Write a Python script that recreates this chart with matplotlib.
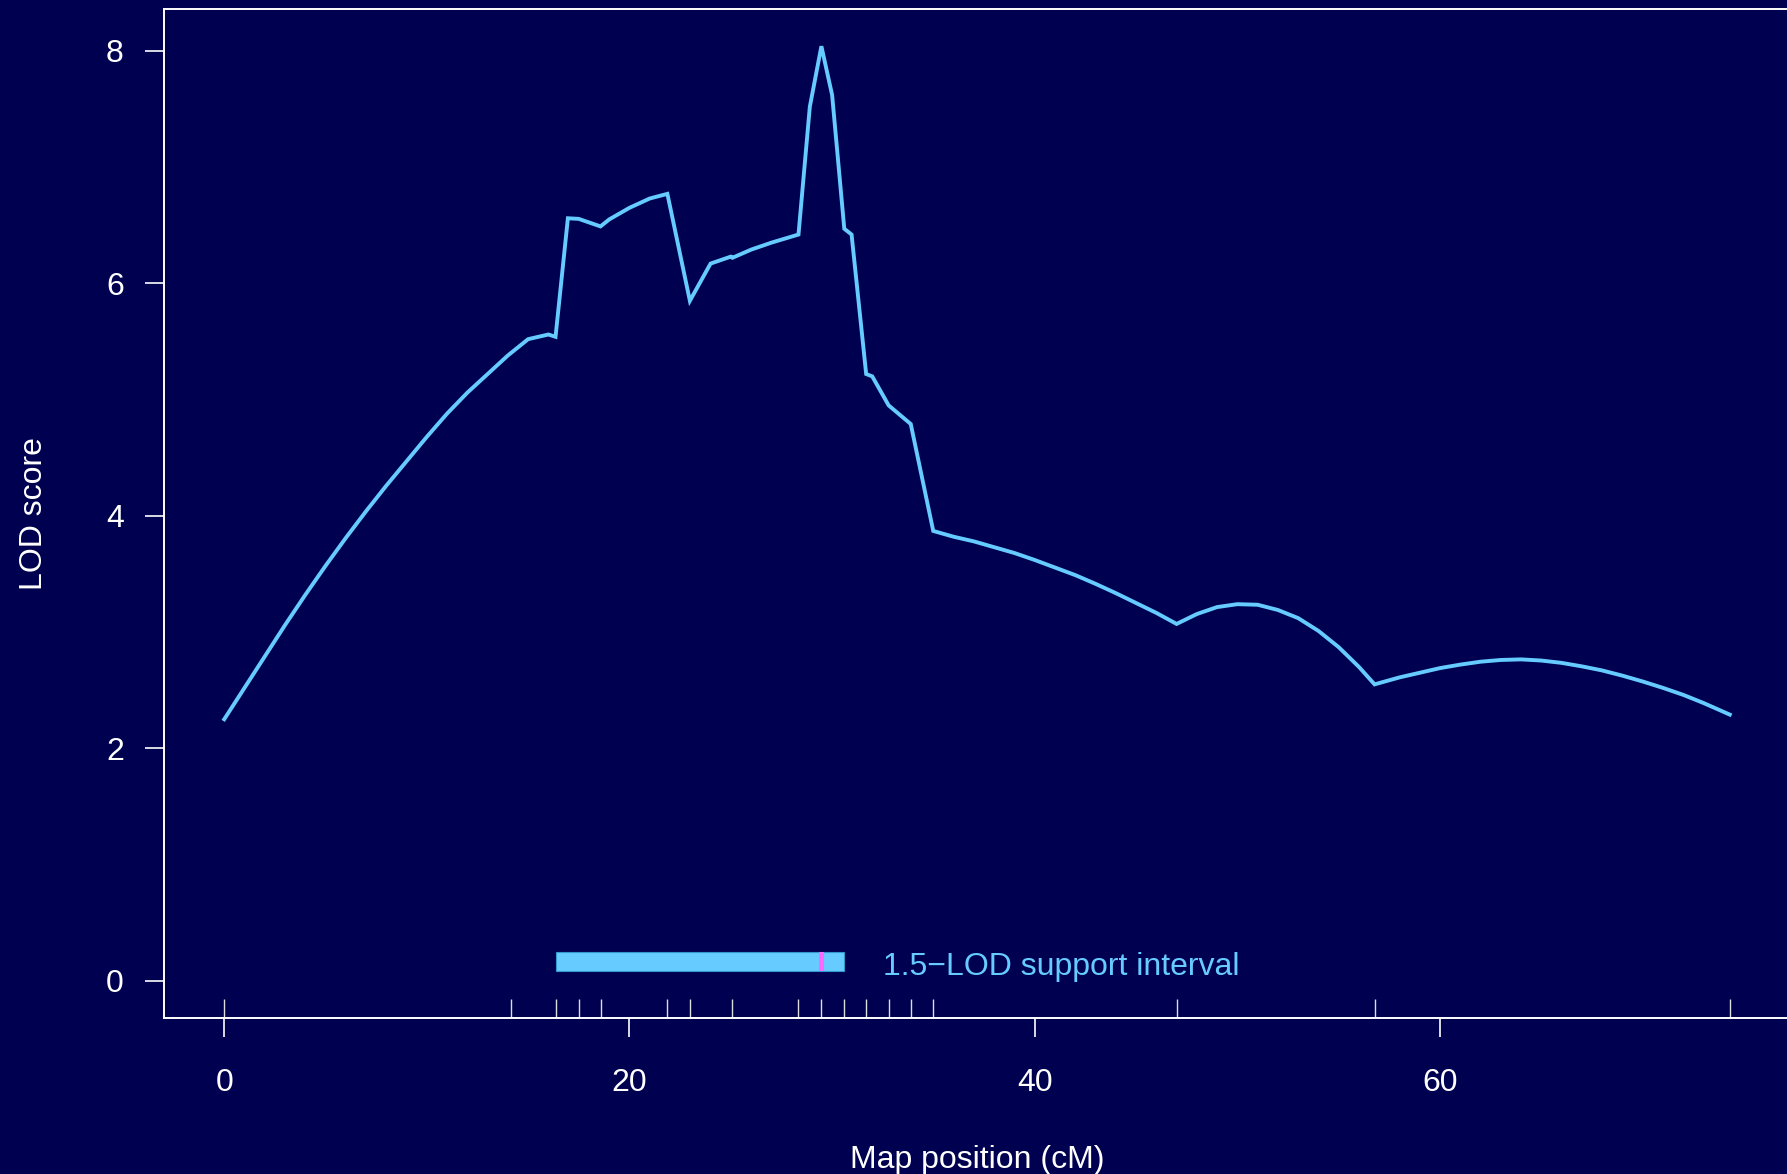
import matplotlib
matplotlib.use("Agg")
import matplotlib.pyplot as plt

# ---- data ----
pos_cM = [0, 1, 2, 3, 4, 5, 6, 7, 8, 9, 10, 11, 12, 13, 14, 15, 16, 16.35, 16.96,
          17.49, 18.57, 19.0, 20, 21, 21.87, 22.98, 24, 25.0, 25.08, 26, 27, 28.34,
          28.9, 29.47, 30.0, 30.6, 30.96, 31.68, 31.98, 32.79, 33.88, 34.99, 36, 37,
          38, 39, 40, 41, 42, 43, 44, 45, 46, 47.0, 48, 49, 50, 51, 52, 53, 54, 55,
          56, 56.77, 58, 59, 60, 61, 62, 63, 64, 65, 66, 67, 68, 69, 70, 71, 72, 73,
          74.3]
lod = [2.25, 2.52, 2.79, 3.06, 3.32, 3.57, 3.81, 4.04, 4.26, 4.47, 4.68, 4.88, 5.06,
       5.22, 5.38, 5.52, 5.56, 5.54, 6.56, 6.555, 6.49, 6.55, 6.65, 6.73, 6.77, 5.85,
       6.17, 6.23, 6.22, 6.29, 6.35, 6.42, 7.52, 8.04, 7.62, 6.47, 6.42, 5.22, 5.20,
       4.95, 4.79, 3.87, 3.82, 3.78, 3.73, 3.68, 3.62, 3.555, 3.49, 3.415, 3.335,
       3.25, 3.165, 3.07, 3.155, 3.215, 3.24, 3.235, 3.19, 3.12, 3.01, 2.87, 2.70,
       2.55, 2.61, 2.65, 2.69, 2.72, 2.745, 2.76, 2.765, 2.755, 2.735, 2.705, 2.67,
       2.625, 2.575, 2.52, 2.46, 2.39, 2.29]
markers_cM = [0, 14.16, 16.35, 17.49, 18.57, 21.87, 22.98, 25.08, 28.34, 29.47, 30.60,
              31.68, 32.79, 33.88, 34.99, 47.0, 56.77, 74.3]
interval_lo = 16.35
interval_hi = 30.60
peak_cM = 29.47
interval_label = "1.5\u2212LOD support interval"
xticks = [0, 20, 40, 60]
yticks = [0, 2, 4, 6, 8]

# ---- style ----
BG = "#000050"
FG = "white"
LINE = "#66CCFF"
MAG = "#FF66FF"

plt.rcParams["font.family"] = ["Liberation Sans", "DejaVu Sans"]

fig = plt.figure(figsize=(17.87, 11.74), dpi=100, facecolor=BG)
ax = fig.add_axes([0.0918, 0.1329, 0.9082 + 0.002, 0.8594])
ax.set_facecolor(BG)

ax.plot(pos_cM, lod, color=LINE, lw=2.8, solid_joinstyle="miter", zorder=3)

# support interval bar
bar_y = 0.166
bar_h = 0.17
ax.barh([bar_y], [interval_hi - interval_lo], left=[interval_lo], height=bar_h,
        color=LINE, edgecolor="#3399CC", linewidth=0.8, zorder=2)
ax.barh([bar_y], [0.28], left=[peak_cM - 0.14], height=bar_h, color=MAG,
        edgecolor="none", zorder=2.5)
ax.text(interval_hi + 1.9, bar_y - 0.045, interval_label, color=LINE, fontsize=23,
        va="center", ha="left")

# marker rug
rug_h = 19 / 116.25
ymin_axis = -0.32
ax.vlines(markers_cM, ymin_axis, ymin_axis + rug_h, color="#DDDDDD", lw=1.0, zorder=1)

ax.set_xlim(-2.97, 77.3)
ax.set_ylim(-0.32, 8.36)
ax.set_xticks(xticks)
ax.set_yticks(yticks)
ax.set_xticklabels([str(v) for v in xticks])
ax.set_yticklabels([str(v) for v in yticks])

for s in ax.spines.values():
    s.set_color(FG)
    s.set_linewidth(1.4)
ax.spines["right"].set_visible(False)

ax.tick_params(axis="both", colors=FG, labelcolor=FG, labelsize=23,
               length=14, width=1.2, direction="out")
ax.tick_params(axis="x", pad=22)
ax.tick_params(axis="y", pad=15)

ax.set_xlabel("Map position (cM)", color=FG, fontsize=23, labelpad=34)
ax.set_ylabel("LOD score", color=FG, fontsize=23, labelpad=41)

fig.savefig("out.png", dpi=100, facecolor=BG)
